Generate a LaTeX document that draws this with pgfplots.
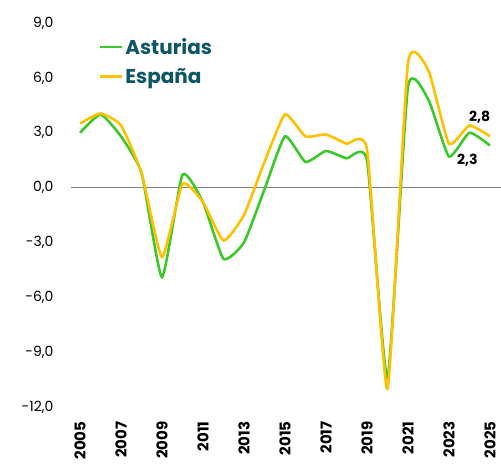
\documentclass[border=0pt]{standalone}
\usepackage{fontspec}
\setmainfont{Poppins}
\usepackage{pgfplots}
\pgfplotsset{compat=1.18}
\definecolor{ast}{HTML}{3CC82A}
\definecolor{esp}{HTML}{FFC000}
\definecolor{legtxt}{HTML}{0E5568}
\begin{document}
\begin{tikzpicture}
\useasboundingbox (-71pt,-59pt) rectangle (430pt,407pt);
\begin{axis}[
  at={(0,0)}, anchor=south west,
  scale only axis, width=430pt, height=384pt,
  xmin=2004.56, xmax=2025.54, ymin=-12, ymax=9,
  axis line style={draw=none}, major tick length=0pt,
  xtick={2005,2007,...,2025},
  xticklabels={2005,2007,2009,2011,2013,2015,2017,2019,2021,2023,2025},
  xticklabel style={rotate=90, anchor=east, font=\fontsize{15}{15}\selectfont\bfseries, xshift=-11pt},
  ytick={-12,-9,-6,-3,0,3,6,9},
  yticklabels={{-12,0},{-9,0},{-6,0},{-3,0},{0,0},{3,0},{6,0},{9,0}},
  yticklabel style={anchor=east, font=\fontsize{14}{14}\selectfont, xshift=-14pt},
  legend style={draw=none, fill=none, at={(axis description cs:0.065,0.965)}, anchor=north west,
    font=\fontsize{20}{22}\selectfont\bfseries, text=legtxt, row sep=8pt,
    legend cell align=left, inner sep=0pt},
  legend image code/.code={\draw[#1, line width=2.2pt] (0pt,0pt) -- (22pt,0pt);},
]
\draw[gray, line width=1.3pt] (axis cs:2004.56,0) -- (axis cs:2025.54,0);
\addplot[ast, line width=2.6pt, smooth, tension=0.3] coordinates {
(2005,3.0) (2006,4.0) (2007,2.8) (2008,0.8) (2009,-4.9) (2010,0.7) (2011,-0.8)
(2012,-3.9) (2013,-3.0) (2014,-0.1) (2015,2.8) (2016,1.4) (2017,2.0) (2018,1.6)
(2019,1.5) (2020,-10.4) (2021,5.5) (2022,4.8) (2023,1.7) (2024,3.0) (2025,2.3)};
\addlegendentry{Asturias}
\addplot[esp, line width=2.6pt, smooth, tension=0.3] coordinates {
(2005,3.5) (2006,4.05) (2007,3.4) (2008,0.8) (2009,-3.8) (2010,0.2) (2011,-0.8)
(2012,-2.9) (2013,-1.5) (2014,1.4) (2015,4.0) (2016,2.8) (2017,2.9) (2018,2.4)
(2019,2.1) (2020,-11.0) (2021,6.8) (2022,6.4) (2023,2.4) (2024,3.4) (2025,2.8)};
\addlegendentry{España}
\node[font=\fontsize{14}{14}\selectfont\bfseries] at (axis cs:2024.5,3.85) {2,8};
\node[font=\fontsize{14}{14}\selectfont\bfseries] at (axis cs:2023.9,1.5) {2,3};
\end{axis}
\end{tikzpicture}
\end{document}
